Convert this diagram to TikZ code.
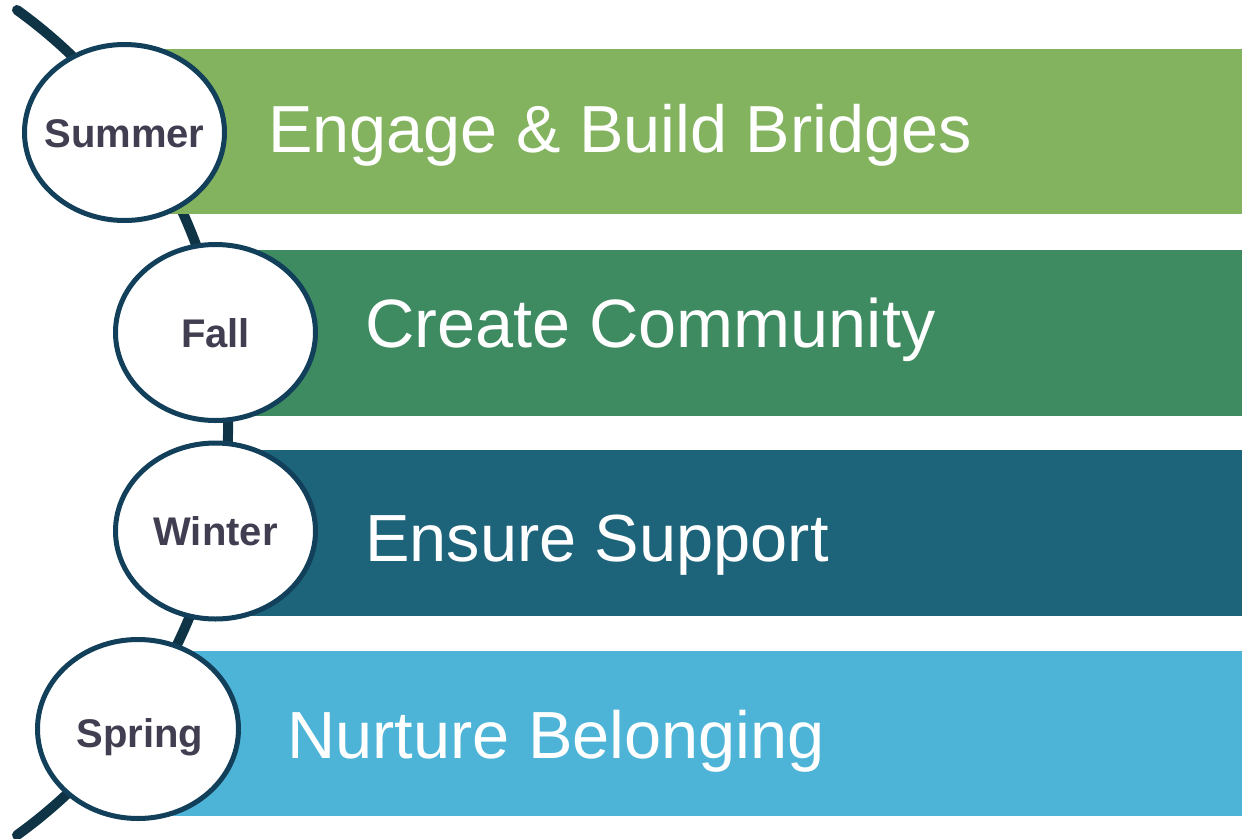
\documentclass[tikz,border=0pt]{standalone}
\usepackage{fontspec}
\setmainfont{Liberation Sans}
\usetikzlibrary{shapes.geometric}
\definecolor{barA}{HTML}{84B35F}
\definecolor{barB}{HTML}{3E8B62}
\definecolor{barC}{HTML}{1D647A}
\definecolor{barD}{HTML}{4DB4D8}
\definecolor{ring}{HTML}{12405A}
\definecolor{spine}{HTML}{0F3446}
\definecolor{seasontext}{HTML}{403E50}
\tikzset{
  season/.style={ellipse, draw=ring, line width=5pt, fill=white,
    minimum width=200pt, minimum height=176pt, inner xsep=-40pt, inner ysep=0pt,
    text height=29pt, text depth=0pt,
    text=seasontext, font=\fontsize{40}{44}\selectfont\bfseries},
  bartext/.style={anchor=base west, text=white, inner sep=0pt},
}
\newcommand{\barfont}[1]{\fontsize{#1}{#1}\selectfont}
\begin{document}
\begin{tikzpicture}[x=1pt,y=1pt]
\useasboundingbox (0,0) rectangle (1242,-838);
% spine arc
\coordinate (top) at (17,-10);
\draw[spine, line width=10pt, line cap=round] (top) arc[start angle=54.2, end angle=-54.2, radius=508.7] coordinate (bottom);
% bars
\fill[barA] (124,-49) rectangle (1242,-214);
\fill[barB] (215,-250) rectangle (1242,-416);
\fill[barC] (215,-450) rectangle (1242,-616);
\fill[barD] (138,-651) rectangle (1242,-816);
% season ellipses
\node[season] (summer) at (124.5,-132.5) {Summer};
\node[season] (fall) at (215.5,-332.5) {Fall};
\node[season] (winter) at (215.5,-531) {Winter};
\node[season, minimum width=201pt, minimum height=179pt] (spring) at (138,-729) {};
\node[anchor=base, inner sep=0pt, text=seasontext, font=\fontsize{40}{44}\selectfont\bfseries] (springlabel) at (140,-747) {Spring};
% bar texts
\node[bartext, font=\barfont{66.6}] (t1) at (268,-152) {Engage \& Build Bridges};
\node[bartext, font=\barfont{68.4}] (t2) at (365,-347) {Create Community};
\node[bartext, font=\barfont{66.7}] (t3) at (365,-561) {Ensure Support};
\node[bartext, font=\barfont{66.7}] (t4) at (287,-758) {Nurture Belonging};
\end{tikzpicture}
\end{document}
